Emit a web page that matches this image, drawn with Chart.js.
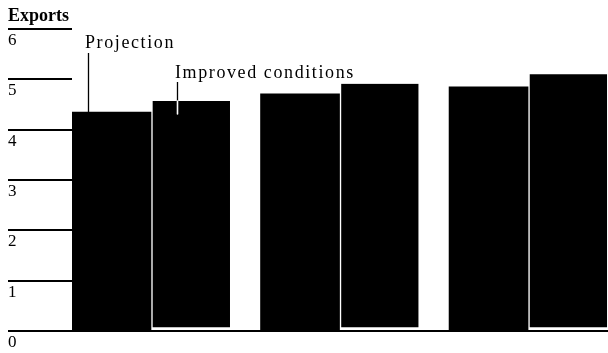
<!DOCTYPE html>
<html>
<head>
<meta charset="utf-8">
<script src="https://cdn.jsdelivr.net/npm/chart.js@4/dist/chart.umd.min.js"></script>
<style>
  html, body { margin: 0; padding: 0; background: #fff; }
  #wrap { position: relative; width: 608px; height: 353px; }
</style>
</head>
<body>
<div id="wrap"><canvas id="canvas"></canvas></div>
<script>
// three unlabeled groups of bars
var groups = ['Group 1', 'Group 2', 'Group 3'];
var projection = [4.35, 4.71, 4.85];
var improved   = [4.57, 4.91, 5.10];
var yTicks = [0, 1, 2, 3, 4, 5, 6];
var seriesNames = ['Projection', 'Improved conditions'];

function points(vals) {
    return vals.map(function(v, i) { return { x: i, y: v }; });
}

// leader labels drawn on top of the bars
var leaders = {
    id: 'leaders',
    afterDraw: function(chart) {
        var ctx = chart.ctx;
        var b1 = chart.getDatasetMeta(0).data[0];
        var b2 = chart.getDatasetMeta(1).data[0];
        var left1 = b1.x - b1.width / 2;
        var left2 = b2.x - b2.width / 2;
        ctx.save();
        ctx.font = '18px "Liberation Serif"';
        ctx.fillStyle = '#000';
        ctx.textBaseline = 'alphabetic';
        ctx.letterSpacing = '1.6px';
        ctx.fillText(seriesNames[0], left1 + 13, 48);
        ctx.fillText(seriesNames[1], left2 + 24, 78);
        ctx.lineWidth = 1.3;
        ctx.strokeStyle = '#000';
        ctx.beginPath();
        ctx.moveTo(left1 + 16.5, 53);
        ctx.lineTo(left1 + 16.5, b1.y);
        ctx.moveTo(left2 + 26.5, 82);
        ctx.lineTo(left2 + 26.5, b2.y);
        ctx.stroke();
        ctx.strokeStyle = '#fff';
        ctx.lineCap = 'round';
        ctx.lineWidth = 1.6;
        ctx.beginPath();
        ctx.moveTo(left2 + 26.5, b2.y);
        ctx.lineTo(left2 + 26.5, b2.y + 13);
        ctx.stroke();
        ctx.restore();
    }
};

var chart = new Chart(document.getElementById('canvas').getContext('2d'), {
    type: 'bar',
    data: {
        labels: groups,
        datasets: [
            {
                label: seriesNames[0],
                data: points(projection),
                backgroundColor: '#000',
                borderWidth: 0,
                barThickness: 79
            },
            {
                label: seriesNames[1],
                data: points(improved),
                backgroundColor: '#000',
                borderColor: '#fff',
                borderWidth: { left: 2, bottom: 3, top: 0, right: 0 },
                borderSkipped: false,
                barThickness: 79
            }
        ]
    },
    options: {
        responsive: true,
        maintainAspectRatio: false,
        animation: false,
        layout: { padding: { left: 8, right: 0, top: 0, bottom: 22 } },
        plugins: {
            legend: { display: false },
            tooltip: { enabled: false },
            title: {
                display: true,
                text: 'Exports',
                align: 'start',
                color: '#000',
                font: { family: 'Liberation Serif', size: 18, weight: 'bold', lineHeight: 1 },
                padding: { top: 7, bottom: 4 }
            }
        },
        scales: {
            x: {
                type: 'linear',
                display: false,
                offset: false,
                min: -0.419,
                max: 2.424
            },
            y: {
                min: yTicks[0],
                max: yTicks[yTicks.length - 1],
                afterFit: function(scale) { scale.width = 64; },
                afterBuildTicks: function(scale) {
                    scale.ticks = yTicks.map(function(v) { return { value: v }; });
                },
                border: { display: false },
                grid: {
                    z: 1,
                    drawTicks: true,
                    tickLength: 64,
                    tickWidth: 2,
                    tickColor: '#000',
                    lineWidth: 2,
                    color: function(c) { return c.tick && c.tick.value === 0 ? '#000' : 'rgba(0,0,0,0)'; }
                },
                ticks: {
                    crossAlign: 'far',
                    labelOffset: 11.5,
                    padding: 0,
                    color: '#000',
                    font: { family: 'Liberation Serif', size: 17 }
                }
            }
        }
    },
    plugins: [leaders]
});
</script>
</body>
</html>
